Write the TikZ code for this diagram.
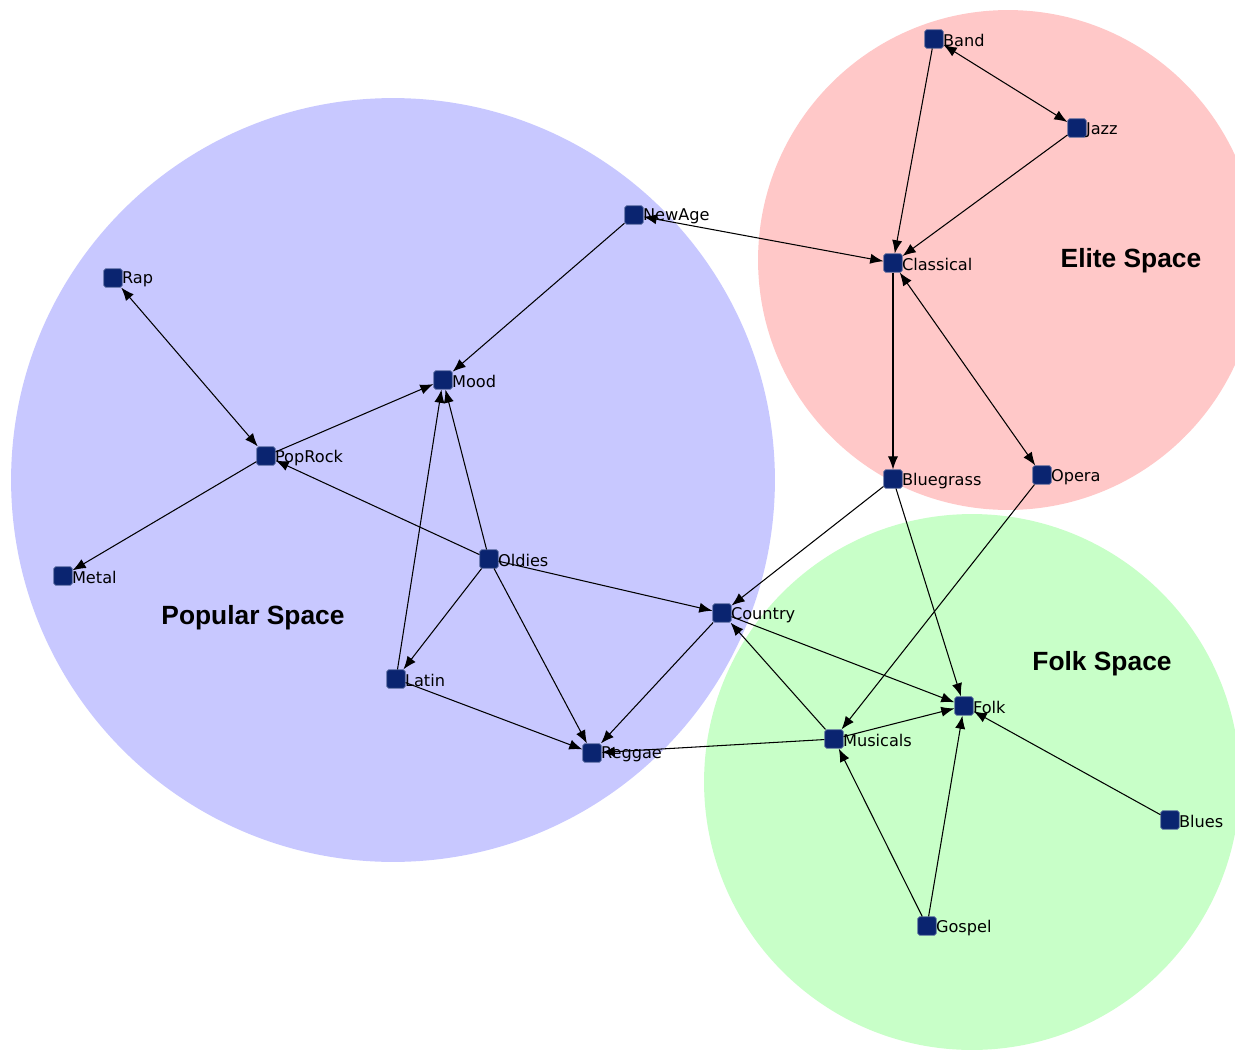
\documentclass[tikz,border=0pt]{standalone}
\usepackage{fontspec}
\setmainfont{DejaVu Sans}
\newfontfamily\titlefont{Liberation Sans}
\usetikzlibrary{arrows.meta}
\definecolor{navy}{HTML}{0A2470}
\definecolor{popblue}{HTML}{C8C8FF}
\definecolor{elitepink}{HTML}{FFC8C8}
\definecolor{folkgreen}{HTML}{C8FFC8}
\tikzset{
  genre/.style={rectangle, rounded corners=1pt, fill=navy, draw=navy!70,
    minimum size=10.5pt, inner sep=0pt},
  lbl/.style={font=\fontsize{9.2}{10}\selectfont, inner sep=0pt, label distance=-0.5pt, yshift=-1pt},
  space/.style={font=\titlefont\bfseries\fontsize{15}{18}\selectfont},
  tie/.style={-{Latex[length=7.5pt,width=5.8pt]}, line width=0.6pt, black},
  bitie/.style={{Latex[length=7.5pt,width=5.8pt]}-{Latex[length=7.5pt,width=5.8pt]}, line width=0.6pt, black}
}
\begin{document}
\begin{tikzpicture}[x=0.02cm, y=-0.02cm]
    \useasboundingbox (0,0) rectangle (1235,1052);
    \clip (0,0) rectangle (1235,1052);

    % the three spaces
    \fill[popblue] (393,480) circle (7.64cm);
    \fill[elitepink] (1008,260) circle (5cm);
    \fill[folkgreen] (972,782) circle (5.36cm);

    \node[space] (popular) at (253,618) {Popular Space};
    \node[space] (elite) at (1131,261) {Elite Space};
    \node[space] (folk) at (1102,664) {Folk Space};

    % genres
    \node[genre, label={[lbl]east:Band}] (band) at (934,39) {};
    \node[genre, label={[lbl]east:Jazz}] (jazz) at (1077,128) {};
    \node[genre, label={[lbl]east:NewAge}] (newage) at (634,215) {};
    \node[genre, label={[lbl]east:Classical}] (classical) at (893,263) {};
    \node[genre, label={[lbl]east:Rap}] (rap) at (113,278) {};
    \node[genre, label={[lbl]east:Mood}] (mood) at (443,380) {};
    \node[genre, label={[lbl]east:PopRock}] (poprock) at (266,456) {};
    \node[genre, label={[lbl]east:Bluegrass}] (bluegrass) at (893,479) {};
    \node[genre, label={[lbl]east:Opera}] (opera) at (1042,475) {};
    \node[genre, label={[lbl]east:Oldies}] (oldies) at (489,559) {};
    \node[genre, label={[lbl]east:Metal}] (metal) at (63,576) {};
    \node[genre, label={[lbl]east:Country}] (country) at (722,613) {};
    \node[genre, label={[lbl]east:Latin}] (latin) at (396,679) {};
    \node[genre, label={[lbl]east:Folk}] (folkg) at (964,706) {};
    \node[genre, label={[lbl]east:Musicals}] (musicals) at (834,739) {};
    \node[genre, label={[lbl]east:Reggae}] (reggae) at (592,753) {};
    \node[genre, label={[lbl]east:Blues}] (blues) at (1170,820) {};
    \node[genre, label={[lbl]east:Gospel}] (gospel) at (927,926) {};

    % ties
    \draw[bitie] (band) -- (jazz);
    \draw[tie] (band) -- (classical);
    \draw[tie] (jazz) -- (classical);
    \draw[bitie] (newage) -- (classical);
    \draw[tie] (newage) -- (mood);
    \draw[tie] (classical) -- (bluegrass);
    \draw[bitie] (classical) -- (opera);
    \draw[bitie] (rap) -- (poprock);
    \draw[tie] (poprock) -- (mood);
    \draw[tie] (poprock) -- (metal);
    \draw[tie] (oldies) -- (poprock);
    \draw[tie] (oldies) -- (mood);
    \draw[tie] (latin) -- (mood);
    \draw[tie] (oldies) -- (latin);
    \draw[tie] (oldies) -- (country);
    \draw[tie] (oldies) -- (reggae);
    \draw[tie] (latin) -- (reggae);
    \draw[tie] (country) -- (reggae);
    \draw[tie] (country) -- (folkg);
    \draw[tie] (bluegrass) -- (country);
    \draw[tie] (bluegrass) -- (folkg);
    \draw[tie] (opera) -- (musicals);
    \draw[tie] (musicals) -- (country);
    \draw[tie] (musicals) -- (folkg);
    \draw[tie] (musicals) -- (reggae);
    \draw[tie] (blues) -- (folkg);
    \draw[tie] (gospel) -- (musicals);
    \draw[tie] (gospel) -- (folkg);
\end{tikzpicture}
\end{document}
